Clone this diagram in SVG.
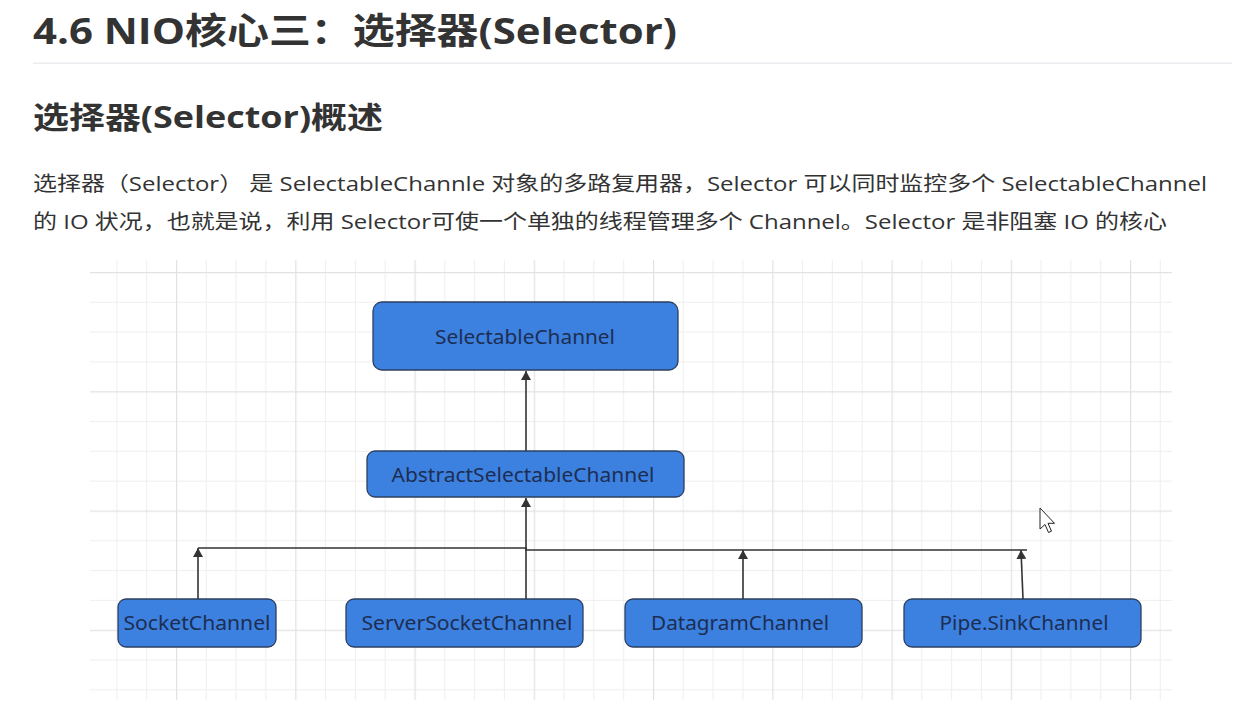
<svg xmlns="http://www.w3.org/2000/svg" width="1242" height="714" viewBox="0 0 1242 714">
<defs>
<style>
.h1{font-family:"Open Sans","Noto Sans CJK SC",sans-serif;font-weight:700;font-size:36px;fill:#333}
.h2{font-family:"Open Sans","Noto Sans CJK SC",sans-serif;font-weight:700;font-size:30px;fill:#333}
.p{font-family:"Open Sans","Noto Sans CJK SC",sans-serif;font-size:20px;fill:#333}
.box{fill:#3c80e0;stroke:#2c3f60;stroke-width:1.3}
.lbl{font-family:"Noto Sans","Open Sans",sans-serif;font-size:20px;fill:#1c2e52;text-anchor:middle}
.con{stroke:#333;stroke-width:1.6;fill:none}
</style>
<pattern id="grid" patternUnits="userSpaceOnUse" x="176" y="272" width="119.25" height="119.25">
<rect x="0" y="0" width="119.25" height="119.25" fill="#fff"/>
<g fill="#efefef">
<rect x="29.8" y="0" width="1" height="119.25"/>
<rect x="59.6" y="0" width="1" height="119.25"/>
<rect x="89.4" y="0" width="1" height="119.25"/>
<rect x="0" y="29.8" width="119.25" height="1"/>
<rect x="0" y="59.6" width="119.25" height="1"/>
<rect x="0" y="89.4" width="119.25" height="1"/>
</g>
<g fill="#e2e2e2">
<rect x="0" y="0" width="1.2" height="119.25"/>
<rect x="0" y="0" width="119.25" height="1.2"/>
</g>
</pattern>
<marker id="arr" markerWidth="10" markerHeight="10" refX="9" refY="5" orient="auto" markerUnits="userSpaceOnUse" viewBox="0 0 10 10">
<path d="M0,0 L9,5 L0,10 Z" fill="#333"/>
</marker>
</defs>
<rect width="1242" height="714" fill="#fff"/>
<g id="header">
<text class="h1" x="33" y="44" textLength="644" lengthAdjust="spacingAndGlyphs">4.6 NIO核心三：选择器(Selector)</text>
<rect x="33" y="62.5" width="1199" height="1.5" fill="#eaecef"/>
<text class="h2" x="33" y="128" textLength="350" lengthAdjust="spacingAndGlyphs">选择器(Selector)概述</text>
<text class="p" x="33" y="191" textLength="1174" lengthAdjust="spacingAndGlyphs">选择器（Selector） 是 SelectableChannle 对象的多路复用器，Selector 可以同时监控多个 SelectableChannel</text>
<text class="p" x="33" y="229" textLength="1134" lengthAdjust="spacingAndGlyphs">的 IO 状况，也就是说，利用 Selector可使一个单独的线程管理多个 Channel。Selector 是非阻塞 IO 的核心</text>
</g>
<rect id="canvas" x="90" y="260" width="1082" height="440" fill="url(#grid)"/>
<g id="connectors">
<line class="con" x1="526" y1="451" x2="526" y2="371" marker-end="url(#arr)"/>
<line class="con" x1="526" y1="599" x2="526" y2="498" marker-end="url(#arr)"/>
<polyline class="con" points="198,548 526,548 526,550 1027,550"/>
<line class="con" x1="198" y1="599" x2="198" y2="548" marker-end="url(#arr)"/>
<line class="con" x1="743" y1="599" x2="743" y2="550" marker-end="url(#arr)"/>
<line class="con" x1="1023" y1="599" x2="1021" y2="550" marker-end="url(#arr)"/>
</g>
<g id="n-selectable">
<rect class="box" x="373" y="302" width="305" height="68" rx="9"/>
<text class="lbl" x="525" y="344" textLength="180" lengthAdjust="spacingAndGlyphs">SelectableChannel</text>
</g>
<g id="n-abstract">
<rect class="box" x="367" y="451" width="317" height="46" rx="8"/>
<text class="lbl" x="523" y="482" textLength="263" lengthAdjust="spacingAndGlyphs">AbstractSelectableChannel</text>
</g>
<g id="n-socket">
<rect class="box" x="118" y="599" width="158" height="48" rx="8"/>
<text class="lbl" x="197" y="630" textLength="147" lengthAdjust="spacingAndGlyphs">SocketChannel</text>
</g>
<g id="n-server">
<rect class="box" x="346" y="599" width="237" height="48" rx="8"/>
<text class="lbl" x="467" y="630" textLength="211" lengthAdjust="spacingAndGlyphs">ServerSocketChannel</text>
</g>
<g id="n-datagram">
<rect class="box" x="625" y="599" width="237" height="48" rx="8"/>
<text class="lbl" x="740" y="630" textLength="178" lengthAdjust="spacingAndGlyphs">DatagramChannel</text>
</g>
<g id="n-pipe">
<rect class="box" x="904" y="599" width="237" height="48" rx="8"/>
<text class="lbl" x="1024" y="630" textLength="169" lengthAdjust="spacingAndGlyphs">Pipe.SinkChannel</text>
</g>
<path id="cursor" d="M1040,508 L1040,529 L1045,524.5 L1048.5,532.5 L1051.5,531.2 L1048,523.3 L1054.5,523.3 Z" fill="#fff" stroke="#222" stroke-width="1"/>
</svg>
